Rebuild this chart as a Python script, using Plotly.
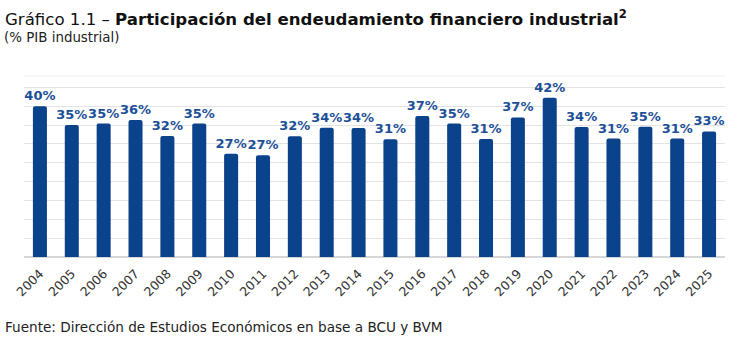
import plotly.graph_objects as go

years = [str(y) for y in range(2004, 2026)]
values = [40.0, 35.0, 35.4, 36.3, 32.1, 35.4, 27.4, 27.0, 32.0, 34.3, 34.2,
          31.2, 37.4, 35.4, 31.3, 37.0, 42.2, 34.45, 31.4, 34.55, 31.4, 33.3]
labels = [f"{round(v):.0f}%" for v in values]

title_main = "Gráfico 1.1 – "
title_bold = "Participación del endeudamiento financiero industrial"
subtitle = "(% PIB industrial)"
source = "Fuente: Dirección de Estudios Económicos en base a BCU y BVM"

FONT = "DejaVu Sans"
BAR = "#0b428c"
LBL = "#1d4f97"

fig = go.Figure(go.Bar(
    x=years, y=values, text=labels, textposition="outside",
    constraintext="none",
    textfont=dict(family=FONT, size=13, color=LBL, weight="bold"),
    marker=dict(color=BAR, line=dict(width=0), cornerradius=2),
    cliponaxis=False, hoverinfo="skip",
))

fig.update_layout(
    width=730, height=351,
    margin=dict(l=24, r=5, t=76, b=94),
    paper_bgcolor="white", plot_bgcolor="white",
    bargap=0.56, showlegend=False,
    font=dict(family=FONT, color="#333333"),
    xaxis=dict(type="category", tickangle=-45, ticklabelstandoff=6,
               tickfont=dict(size=12.5, color="#333333", family=FONT),
               showgrid=False, showline=False, ticks=""),
    yaxis=dict(range=[0, 48], dtick=5, showticklabels=False, showgrid=True,
               gridcolor="#e3e3e3", gridwidth=1.3, zeroline=True,
               zerolinecolor="#d6d6d6", zerolinewidth=1.5, showline=False),
    shapes=[dict(type="line", xref="paper", yref="paper", x0=0, x1=1, y0=1, y1=1,
                 line=dict(color="#eeeeee", width=1))],
)

fig.layout.annotations = [
    dict(text=f"{title_main}<b>{title_bold}</b><b><sup>2</sup></b>",
         xref="paper", yref="paper",
         x=-21/701, y=1 + (76 - 5) / 181, xanchor="left", yanchor="top", showarrow=False,
         font=dict(family=FONT, size=16.6, color="#111111")),
    dict(text=subtitle, xref="paper", yref="paper",
         x=-22/701, y=1 + (76 - 28) / 181, xanchor="left", yanchor="top", showarrow=False,
         font=dict(family=FONT, size=13.4, color="#222222")),
    dict(text=source, xref="paper", yref="paper",
         x=-21/701, y=-(317 - 257) / 181, xanchor="left", yanchor="top", showarrow=False,
         font=dict(family=FONT, size=13.6, color="#222222")),
]

fig.write_html("out.html")
